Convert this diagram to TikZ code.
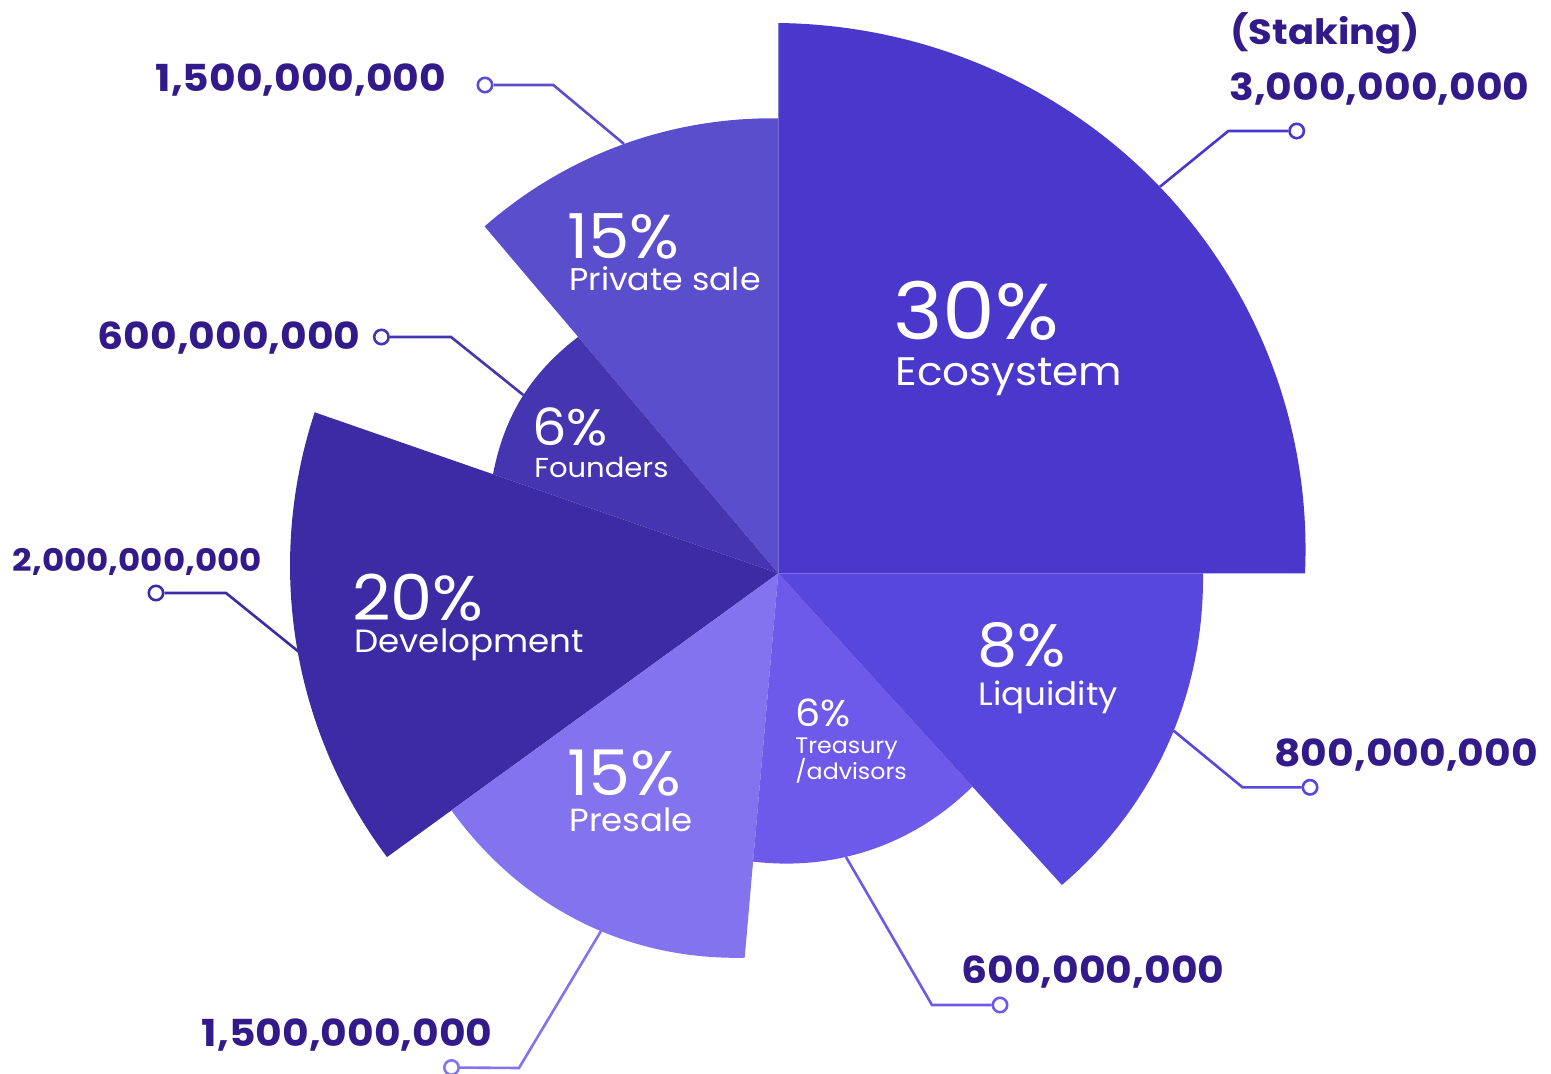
\documentclass[tikz,border=0pt]{standalone}
\usepackage{fontspec}
\setmainfont{Poppins}[FakeStretch=1.06]
\newfontfamily\numfont{Poppins}[FakeStretch=1.1]
\definecolor{ceco}{RGB}{74,55,203}
\definecolor{cliq}{RGB}{88,71,220}
\definecolor{ctre}{RGB}{110,90,234}
\definecolor{cpre}{RGB}{131,115,238}
\definecolor{cdev}{RGB}{61,43,165}
\definecolor{cfou}{RGB}{69,53,176}
\definecolor{cpri}{RGB}{91,78,204}
\definecolor{cnum}{RGB}{50,26,138}
\newcommand\rosesector[6]{%
  \fill[#6] (778.3,573.3) -- plot[domain=#1:#2,samples=90,variable=\t]
   ({778.3+(#3+(#4-#3)*(\t-#1)/(#2-#1)+#5*sin(180*(\t-#1)/(#2-#1)))*cos(\t)},
    {573.3-(#3+(#4-#3)*(\t-#1)/(#2-#1)+#5*sin(180*(\t-#1)/(#2-#1)))*sin(\t)}) -- cycle;}
\tikzset{
  pct/.style={text=white, inner sep=0pt, anchor=base west},
  pctbig/.style={pct, text depth=0pt},
  num/.style={text=cnum, inner sep=0pt, font=\numfont\bfseries\fontsize{18.6}{20}\selectfont},
  conn/.style={line width=1.3pt},
  dot/.style={circle, draw, fill=white, line width=1.3pt, minimum size=7.2pt, inner sep=0pt},
}
\begin{document}
\begin{tikzpicture}[x=0.5pt,y=-0.5pt]
\useasboundingbox (0,0) rectangle (1551,1074);
\coordinate (ctr) at (778.3,573.3);
% sectors
\rosesector{0}{90}{526.7}{550.3}{4.5}{ceco}
\rosesector{90}{130.25}{455}{454.6}{1.4}{cpri}
\rosesector{130.25}{160.85}{309.8}{302}{5}{cfou}
\rosesector{160.85}{215.95}{490.8}{483.4}{0}{cdev}
\rosesector{215.95}{265}{403.8}{385.9}{5.8}{cpre}
\rosesector{265}{312.3}{289.4}{288.4}{2.7}{ctre}
\rosesector{312.3}{360}{421.4}{424.7}{2.4}{cliq}
% connector points
\coordinate (eco-s) at (1160,186.7);  \coordinate (eco-b) at (1228.3,131);
\coordinate (pri-s) at (624,144);     \coordinate (pri-b) at (553.3,85);
\coordinate (fou-s) at (523.3,395);   \coordinate (fou-b) at (451,337);
\coordinate (dev-s) at (299,652);     \coordinate (dev-b) at (226,593);
\coordinate (pre-s) at (601,931);     \coordinate (pre-b) at (519,1068);
\coordinate (tre-s) at (846,857);     \coordinate (tre-b) at (932,1005);
\coordinate (liq-s) at (1173.6,730.7);\coordinate (liq-b) at (1242.5,787.3);
\node[dot, draw=ceco] (eco-d) at (1296.7,131) {};
\node[dot, draw=cpri] (pri-d) at (485,85) {};
\node[dot, draw=cfou] (fou-d) at (381.4,337) {};
\node[dot, draw=cdev] (dev-d) at (156,593) {};
\node[dot, draw=cpre] (pre-d) at (451.5,1067.5) {};
\node[dot, draw=ctre] (tre-d) at (1000,1005) {};
\node[dot, draw=cliq] (liq-d) at (1310,787.3) {};
\draw[conn, ceco] (eco-s) -- (eco-b) -- (eco-d);
\draw[conn, cpri] (pri-s) -- (pri-b) -- (pri-d);
\draw[conn, cfou] (fou-s) -- (fou-b) -- (fou-d);
\draw[conn, cdev] (dev-s) -- (dev-b) -- (dev-d);
\draw[conn, cpre] (pre-s) -- (pre-b) -- (pre-d);
\draw[conn, ctre] (tre-s) -- (tre-b) -- (tre-d);
\draw[conn, cliq] (liq-s) -- (liq-b) -- (liq-d);
% sector labels
\node[pctbig, font=\fontsize{39.6}{41}\selectfont] (eco-p) at (893,340) {30\%};
\node[pct, font=\fontsize{19.9}{22}\selectfont] (eco-l) at (895,385.7) {Ecosystem};
\node[pctbig, font=\fontsize{31}{33}\selectfont] (pri-p) at (567,258.3) {15\%};
\node[pct, font=\fontsize{15.7}{17}\selectfont] (pri-l) at (569,290.7) {Private sale};
\node[pctbig, font=\fontsize{25.6}{27}\selectfont] (fou-p) at (532,445) {6\%};
\node[pct, font=\fontsize{13.7}{15}\selectfont] (fou-l) at (534,477.7) {Founders};
\node[pctbig, font=\fontsize{31.6}{33}\selectfont] (dev-p) at (352,620) {20\%};
\node[pct, font=\fontsize{16.1}{18}\selectfont] (dev-l) at (354,652.3) {Development};
\node[pctbig, font=\fontsize{31.5}{33}\selectfont] (pre-p) at (567,795) {15\%};
\node[pct, font=\fontsize{16}{18}\selectfont] (pre-l) at (569,831) {Presale};
\node[pctbig, font=\fontsize{30}{32}\selectfont] (liq-p) at (977,666) {8\%};
\node[pct, font=\fontsize{16.1}{18}\selectfont] (liq-l) at (978,705.7) {Liquidity};
\node[pctbig, font=\fontsize{18.7}{20}\selectfont] (tre-p) at (795,726.7) {6\%};
\node[pct, font=\fontsize{11.2}{13}\selectfont] (tre-l) at (795,753.3) {Treasury};
\node[pct, font=\fontsize{11.2}{13}\selectfont] (tre-l2) at (795,779.3) {/advisors};
% amounts
\node[num, anchor=base west, font=\numfont\bfseries\fontsize{17.5}{19}\selectfont] (eco-n0) at (1230,45) {(Staking)};
\node[num, anchor=base west] (eco-n) at (1229,101) {3,000,000,000};
\node[num, anchor=base east] (pri-n) at (446.7,92) {1,500,000,000};
\node[num, anchor=base east] (fou-n) at (361,349.3) {600,000,000};
\node[num, anchor=base west, font=\numfont\bfseries\fontsize{15.5}{17}\selectfont] (dev-n) at (12.5,571.7) {2,000,000,000};
\node[num, anchor=base east] (pre-n) at (493,1046.7) {1,500,000,000};
\node[num, anchor=base west] (tre-n) at (961,983.3) {600,000,000};
\node[num, anchor=base west] (liq-n) at (1274,766.7) {800,000,000};
\end{tikzpicture}
\end{document}
